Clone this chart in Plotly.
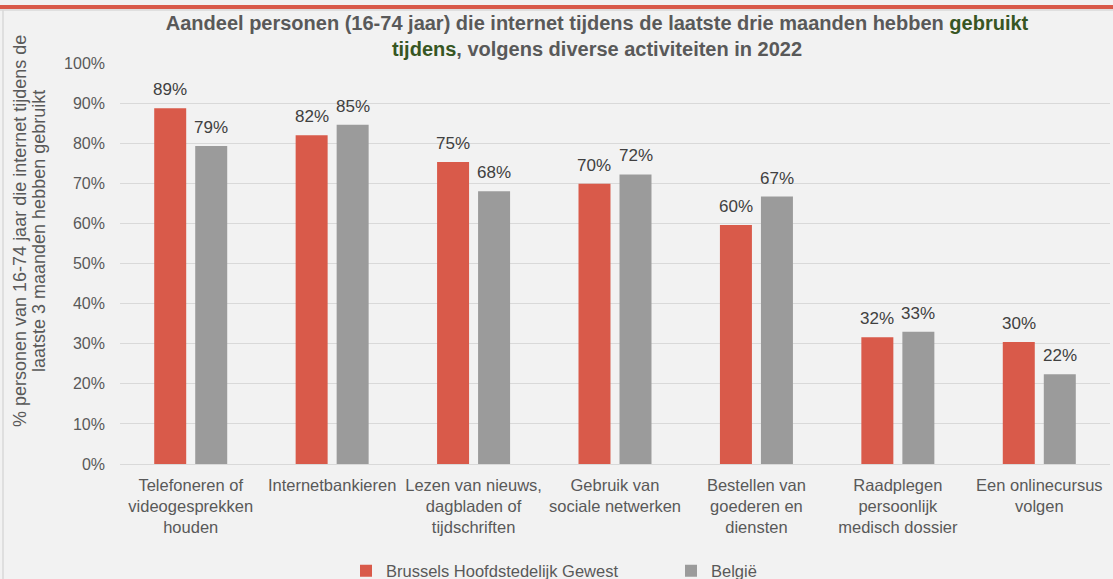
import plotly.graph_objects as go

categories = [
    "Telefoneren of<br>videogesprekken<br>houden",
    "Internetbankieren",
    "Lezen van nieuws,<br>dagbladen of<br>tijdschriften",
    "Gebruik van<br>sociale netwerken",
    "Bestellen van<br>goederen en<br>diensten",
    "Raadplegen<br>persoonlijk<br>medisch dossier",
    "Een onlinecursus<br>volgen",
]
brussels = [88.7, 82.0, 75.3, 69.9, 59.6, 31.6, 30.4]
belgie = [79.3, 84.6, 68.0, 72.2, 66.7, 33.0, 22.4]
series_names = ["Brussels Hoofdstedelijk Gewest", "België"]
y_ticks = list(range(0, 101, 10))
y_title_lines = ["% personen van 16-74 jaar die internet tijdens de",
                 "laatste 3 maanden hebben gebruikt"]

RED = "#D95A4A"
GREY = "#9B9B9B"
BG = "#F2F2F2"
TXT = "#595959"
LBL = "#404040"
GRID = "#D9D9D9"
FONT = "Liberation Sans, Arial, sans-serif"

W, H = 1113, 579
ML, MR, MT, MB = 120, 3, 63, 115
PW = W - ML - MR
PH = H - MT - MB


def px_x(px):
    return (px - ML) / PW


def px_y(py):
    return (H - MB - py) / PH


fig = go.Figure()
fig.add_trace(go.Bar(x=categories, y=brussels, name=series_names[0],
                     marker=dict(color=RED, line=dict(width=0))))
fig.add_trace(go.Bar(x=categories, y=belgie, name=series_names[1],
                     marker=dict(color=GREY, line=dict(width=0))))

annotations = []
slot = PW / len(categories)
group_w = slot * (1 - 0.42)
for vals, shift in ((brussels, -group_w / 4), (belgie, group_w / 4)):
    for c, v in zip(categories, vals):
        annotations.append(dict(
            x=c, y=v, xref="x", yref="y", text=f"{round(v)}%",
            showarrow=False, xshift=shift, yshift=7, yanchor="bottom",
            font=dict(size=17, color=LBL, family=FONT)))

for line, xpx in zip(y_title_lines, (20, 39)):
    annotations.append(dict(
        x=px_x(xpx), y=px_y(231), xref="paper", yref="paper",
        text=line, textangle=-90, showarrow=False,
        xanchor="center", yanchor="middle",
        font=dict(size=18, color=TXT, family=FONT)))

shapes = [
    dict(type="line", xref="paper", yref="paper", x0=px_x(3), x1=px_x(3),
         y0=px_y(10), y1=px_y(H + 5), line=dict(color=GRID, width=1.5)),
    dict(type="line", xref="paper", yref="paper", x0=px_x(0), x1=px_x(W),
         y0=px_y(10), y1=px_y(10), line=dict(color=GRID, width=1.5)),
    dict(type="rect", xref="paper", yref="paper", x0=px_x(0), x1=px_x(W),
         y0=px_y(9), y1=px_y(5), fillcolor=RED, line=dict(width=0)),
]

fig.update_layout(
    width=W, height=H,
    margin=dict(l=ML, r=MR, t=MT, b=MB),
    paper_bgcolor=BG, plot_bgcolor=BG,
    barmode="group", bargap=0.42, bargroupgap=0.22,
    font=dict(family=FONT, size=16, color=TXT),
    title=dict(
        text="<b>Aandeel personen (16-74 jaar) die internet tijdens de laatste drie maanden hebben "
             "<span style='color:#375623'>gebruikt</span><br>"
             "<span style='color:#375623'>tijdens</span>, volgens diverse activiteiten in 2022</b>",
        x=597 / W, xanchor="center", y=1 - 30 / H, yanchor="top", yref="container",
        font=dict(size=20, color=TXT, family=FONT)),
    showlegend=True,
    legend=dict(orientation="h", xref="container", yref="container",
                x=346 / W, xanchor="left", y=1 - 571 / H, yanchor="middle",
                font=dict(size=16.5, color=TXT, family=FONT),
                bgcolor="rgba(0,0,0,0)", entrywidth=280, entrywidthmode="pixels",
                itemclick=False),
    annotations=annotations,
    shapes=shapes,
    hovermode=False,
)
fig.update_yaxes(range=[0, 100], tickvals=y_ticks, ticktext=[f"{t}%" for t in y_ticks],
                 showgrid=True, gridcolor=GRID, gridwidth=1,
                 zeroline=True, zerolinecolor=GRID, zerolinewidth=1,
                 ticks="", ticklabelstandoff=14,
                 tickfont=dict(size=16, color=TXT, family=FONT))
fig.update_xaxes(showgrid=False, ticks="", showline=False, ticklabelstandoff=9,
                 tickfont=dict(size=16.5, color=TXT, family=FONT), tickangle=0)

fig.write_html("out.html", config={"displayModeBar": False},
               post_script="document.body.style.margin='0';")
